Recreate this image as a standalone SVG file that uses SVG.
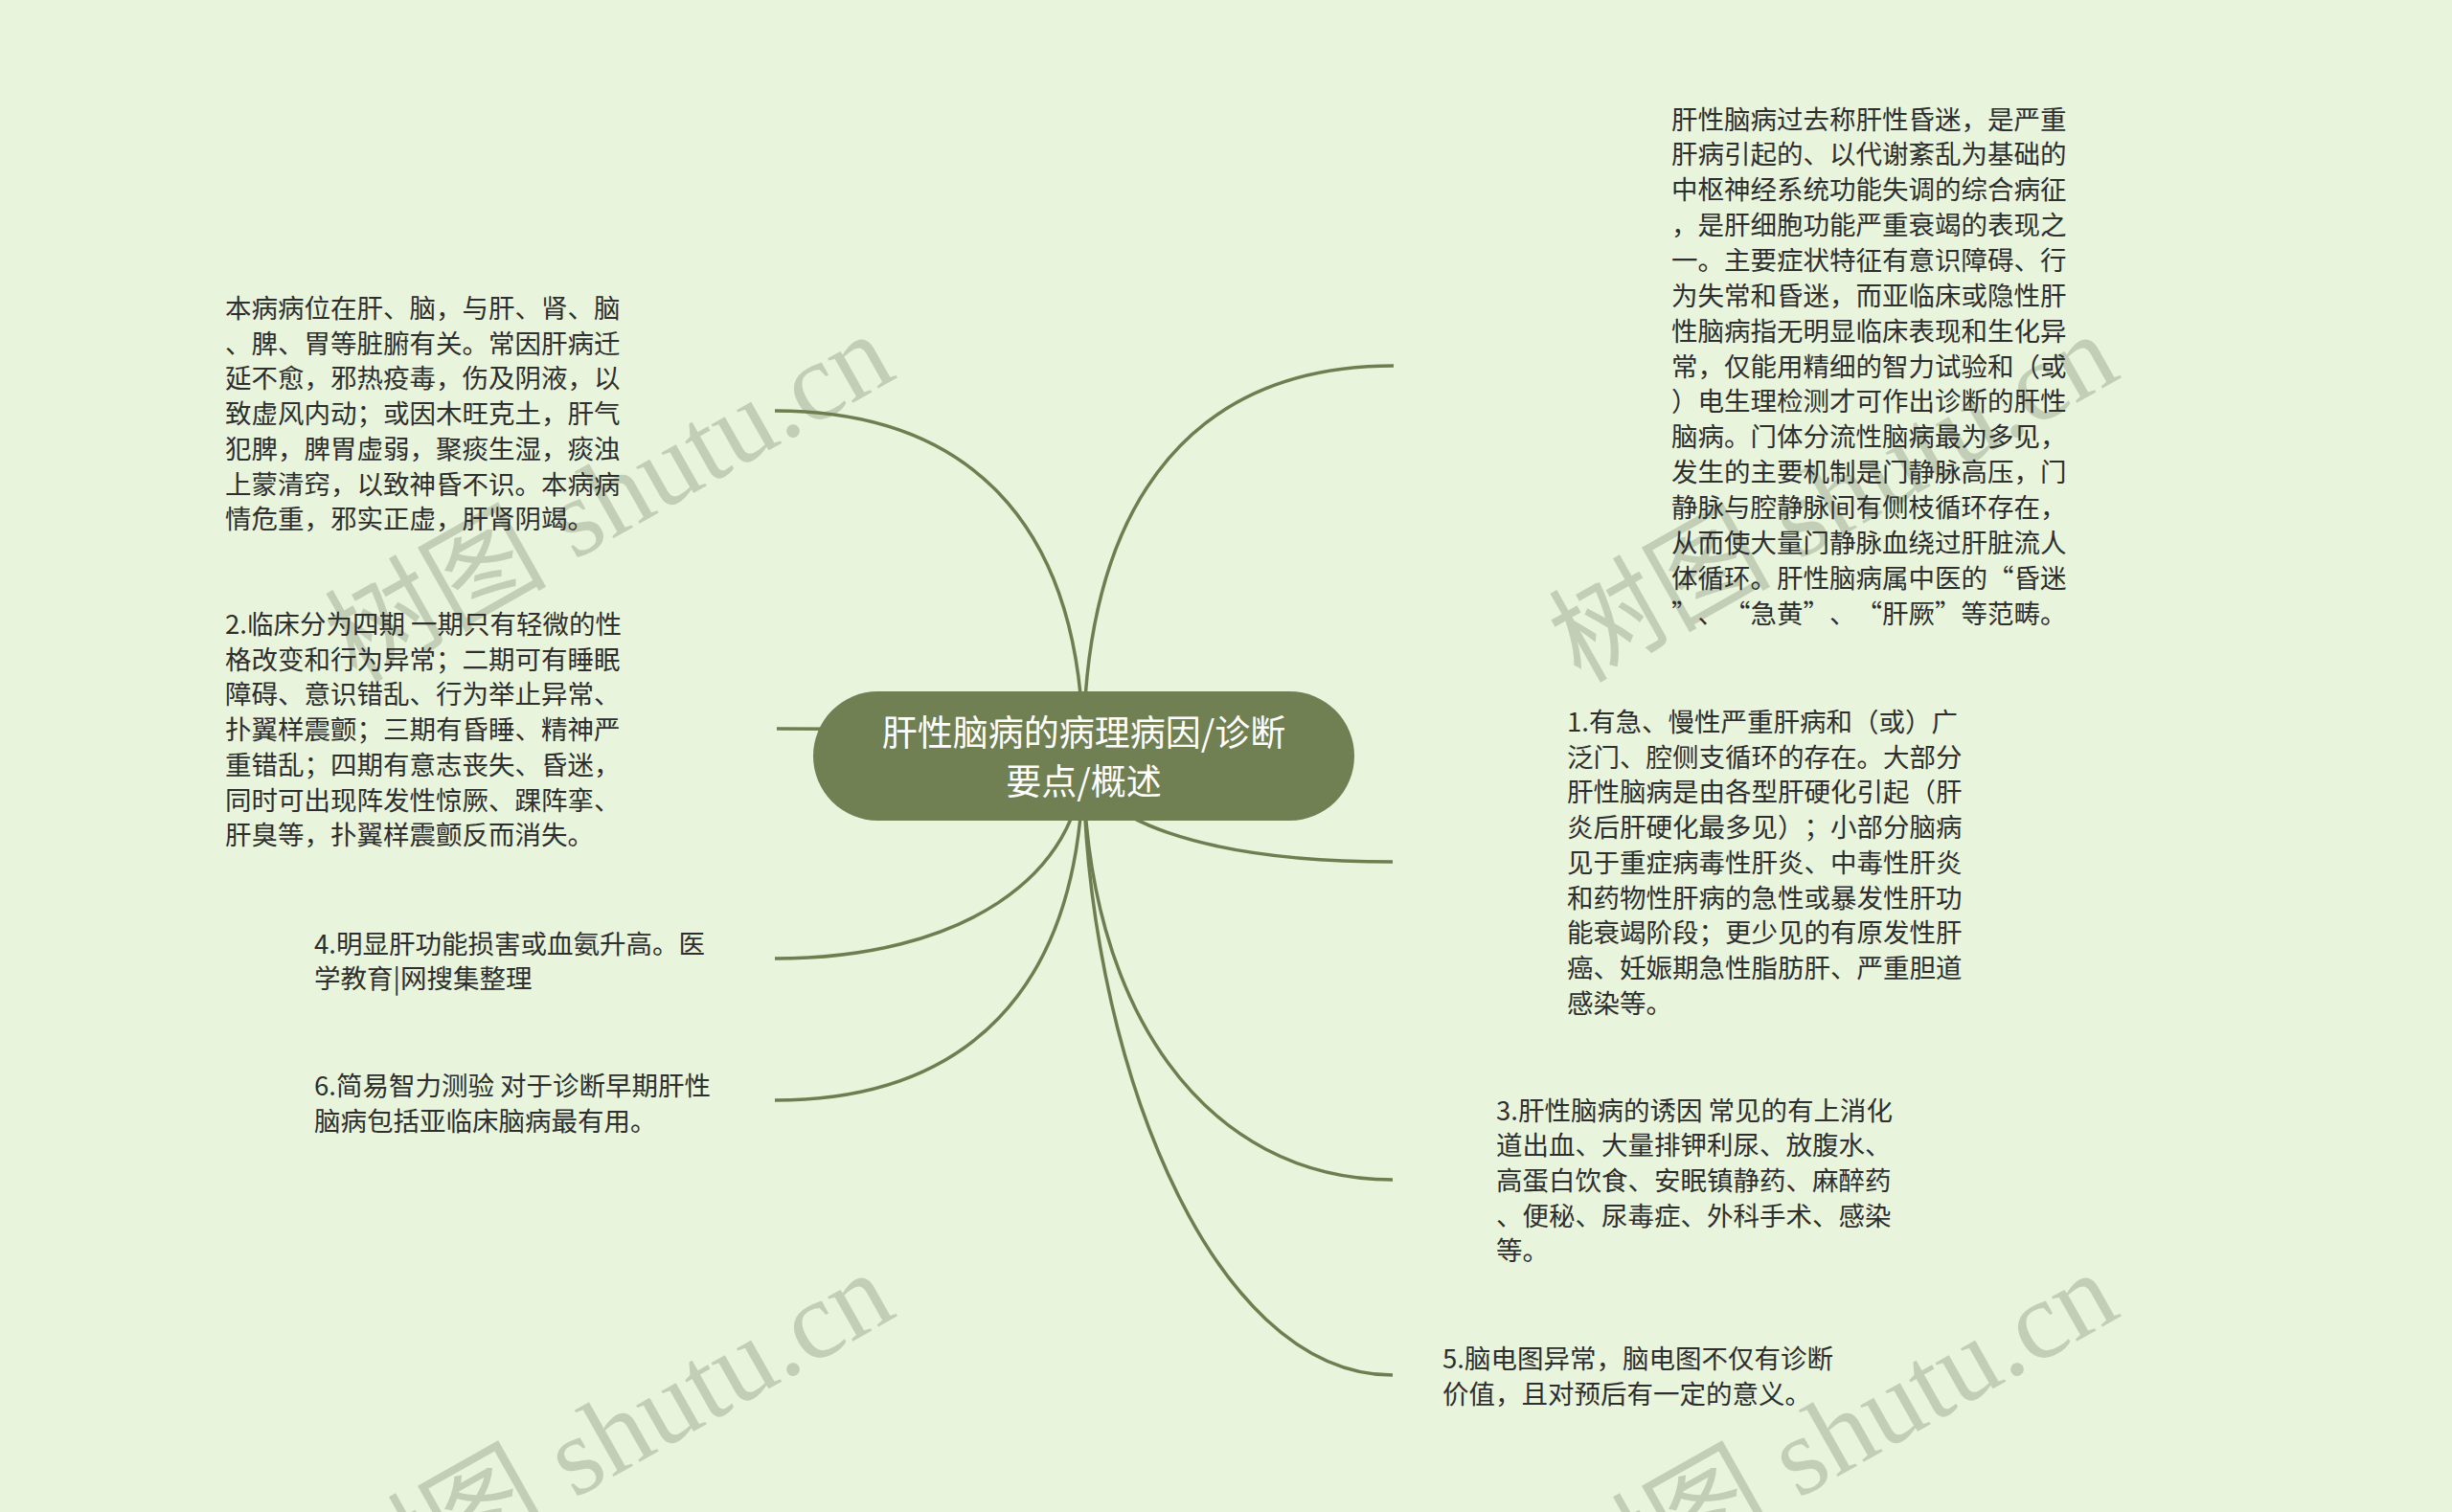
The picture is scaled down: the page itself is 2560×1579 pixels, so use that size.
<svg xmlns="http://www.w3.org/2000/svg" width="2560" height="1579" viewBox="0 0 2560 1579">
<style>
.bg{fill:#e8f5dc}
.wm{font-family:"Liberation Serif","Noto Sans CJK SC",serif;font-size:116px;fill:#c2cfb6}
.edge{fill:none;stroke:#6f7e50;stroke-width:3.5;stroke-linecap:butt}
.root{fill:#718053}
.rt{font-family:"Noto Sans CJK SC","Noto Sans",sans-serif;font-size:37px;fill:#ffffff;text-anchor:middle}
.t{font-family:"Noto Sans CJK SC","Noto Sans",sans-serif;font-size:27.5px;fill:#2e2e2e;text-spacing-trim:space-all}
</style>
<rect class="bg" x="0" y="0" width="2560" height="1579"/>
<g id="watermarks">
<text class="wm" transform="translate(372,714) rotate(-29.5)">树图 shutu.cn</text>
<text class="wm" transform="translate(1650,714) rotate(-29.5)">树图 shutu.cn</text>
<text class="wm" transform="translate(372,1694) rotate(-29.5)">树图 shutu.cn</text>
<text class="wm" transform="translate(1650,1694) rotate(-29.5)">树图 shutu.cn</text>
</g>
<g id="connectors">
<path class="edge" d="M1131,789 C1131,537 1002,429 809,429"/>
<path class="edge" d="M1131,789 C1131,770 1003,761 811,761"/>
<path class="edge" d="M1131,789 C1131,916 1002,1001 809,1001"/>
<path class="edge" d="M1131,789 C1131,1041 1002,1149 809,1149"/>
<path class="edge" d="M1131,789 C1131,504 1261,382 1455,382"/>
<path class="edge" d="M1131,789 C1131,856 1260,900 1454,900"/>
<path class="edge" d="M1131,789 C1131,1055 1260,1232 1454,1232"/>
<path class="edge" d="M1131,789 C1131,1093 1260,1436 1454,1436"/>
</g>
<g id="root">
<rect class="root" x="849" y="722" width="565" height="135" rx="67.5" ry="67.5"/>
<text class="rt" x="1131.5" y="779">肝性脑病的病理病因/诊断</text>
<text class="rt" x="1131.5" y="830">要点/概述</text>
</g>
<g id="node-tcm">
<text class="t" x="235" y="332">
<tspan x="235">本病病位在肝、脑，与肝、肾、脑</tspan>
<tspan x="235" dy="36.7">、脾、胃等脏腑有关。常因肝病迁</tspan>
<tspan x="235" dy="36.7">延不愈，邪热疫毒，伤及阴液，以</tspan>
<tspan x="235" dy="36.7">致虚风内动；或因木旺克土，肝气</tspan>
<tspan x="235" dy="36.7">犯脾，脾胃虚弱，聚痰生湿，痰浊</tspan>
<tspan x="235" dy="36.7">上蒙清窍，以致神昏不识。本病病</tspan>
<tspan x="235" dy="36.7">情危重，邪实正虚，肝肾阴竭。</tspan>
</text>
</g>
<g id="node-2">
<text class="t" x="235" y="662">
<tspan x="235">2.临床分为四期 一期只有轻微的性</tspan>
<tspan x="235" dy="36.7">格改变和行为异常；二期可有睡眠</tspan>
<tspan x="235" dy="36.7">障碍、意识错乱、行为举止异常、</tspan>
<tspan x="235" dy="36.7">扑翼样震颤；三期有昏睡、精神严</tspan>
<tspan x="235" dy="36.7">重错乱；四期有意志丧失、昏迷，</tspan>
<tspan x="235" dy="36.7">同时可出现阵发性惊厥、踝阵挛、</tspan>
<tspan x="235" dy="36.7">肝臭等，扑翼样震颤反而消失。</tspan>
</text>
</g>
<g id="node-4">
<text class="t" x="328" y="995.5">
<tspan x="328">4.明显肝功能损害或血氨升高。医</tspan>
<tspan x="328" dy="36.7">学教育|网搜集整理</tspan>
</text>
</g>
<g id="node-6">
<text class="t" x="328" y="1144">
<tspan x="328">6.简易智力测验 对于诊断早期肝性</tspan>
<tspan x="328" dy="36.7">脑病包括亚临床脑病最有用。</tspan>
</text>
</g>
<g id="node-overview">
<text class="t" x="1745" y="134.5">
<tspan x="1745">肝性脑病过去称肝性昏迷，是严重</tspan>
<tspan x="1745" dy="36.86">肝病引起的、以代谢紊乱为基础的</tspan>
<tspan x="1745" dy="36.86">中枢神经系统功能失调的综合病征</tspan>
<tspan x="1745" dy="36.86">，是肝细胞功能严重衰竭的表现之</tspan>
<tspan x="1745" dy="36.86">一。主要症状特征有意识障碍、行</tspan>
<tspan x="1745" dy="36.86">为失常和昏迷，而亚临床或隐性肝</tspan>
<tspan x="1745" dy="36.86">性脑病指无明显临床表现和生化异</tspan>
<tspan x="1745" dy="36.86">常，仅能用精细的智力试验和（或</tspan>
<tspan x="1745" dy="36.86">）电生理检测才可作出诊断的肝性</tspan>
<tspan x="1745" dy="36.86">脑病。门体分流性脑病最为多见，</tspan>
<tspan x="1745" dy="36.86">发生的主要机制是门静脉高压，门</tspan>
<tspan x="1745" dy="36.86">静脉与腔静脉间有侧枝循环存在，</tspan>
<tspan x="1745" dy="36.86">从而使大量门静脉血绕过肝脏流人</tspan>
<tspan x="1745" dy="36.86">体循环。肝性脑病属中医的“昏迷</tspan>
<tspan x="1745" dy="36.86">”、“急黄”、“肝厥”等范畴。</tspan>
</text>
</g>
<g id="node-1">
<text class="t" x="1636" y="764">
<tspan x="1636">1.有急、慢性严重肝病和（或）广</tspan>
<tspan x="1636" dy="36.7">泛门、腔侧支循环的存在。大部分</tspan>
<tspan x="1636" dy="36.7">肝性脑病是由各型肝硬化引起（肝</tspan>
<tspan x="1636" dy="36.7">炎后肝硬化最多见）；小部分脑病</tspan>
<tspan x="1636" dy="36.7">见于重症病毒性肝炎、中毒性肝炎</tspan>
<tspan x="1636" dy="36.7">和药物性肝病的急性或暴发性肝功</tspan>
<tspan x="1636" dy="36.7">能衰竭阶段；更少见的有原发性肝</tspan>
<tspan x="1636" dy="36.7">癌、妊娠期急性脂肪肝、严重胆道</tspan>
<tspan x="1636" dy="36.7">感染等。</tspan>
</text>
</g>
<g id="node-3">
<text class="t" x="1562" y="1169.5">
<tspan x="1562">3.肝性脑病的诱因 常见的有上消化</tspan>
<tspan x="1562" dy="36.7">道出血、大量排钾利尿、放腹水、</tspan>
<tspan x="1562" dy="36.7">高蛋白饮食、安眠镇静药、麻醉药</tspan>
<tspan x="1562" dy="36.7">、便秘、尿毒症、外科手术、感染</tspan>
<tspan x="1562" dy="36.7">等。</tspan>
</text>
</g>
<g id="node-5">
<text class="t" x="1506" y="1429">
<tspan x="1506">5.脑电图异常，脑电图不仅有诊断</tspan>
<tspan x="1506" dy="36.7">价值，且对预后有一定的意义。</tspan>
</text>
</g>
</svg>
